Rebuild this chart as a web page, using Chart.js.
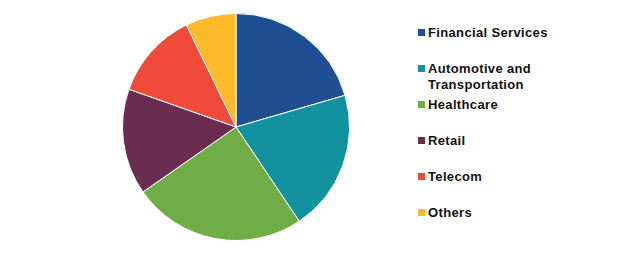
<!DOCTYPE html>
<html>
<head>
<meta charset="utf-8">
<script src="https://cdn.jsdelivr.net/npm/chart.js@4.4.1/dist/chart.umd.min.js"></script>
<style>
    html, body { margin: 0; padding: 0; background: #fff; }
    #wrap { position: relative; width: 620px; height: 256px; }
    #pieBox { position: absolute; left: 122px; top: 13px; width: 228px; height: 228px; }
    #legend { position: absolute; left: 418px; top: 25px; margin: 0; padding: 0; list-style: none;
        font: bold 13px "Liberation Sans", Arial, sans-serif; letter-spacing: 0.35px; color: #111; }
    #legend li { position: relative; height: 36px; padding-left: 10px; line-height: 16px; }
    #legend li span { position: absolute; left: 0; top: 4px; width: 7px; height: 7px; }
</style>
</head>
<body>
<div id="wrap">
    <div id="pieBox"><canvas id="pieChart"></canvas></div>
    <ul id="legend"></ul>
</div>
<script>
const categories = ['Financial Services', 'Automotive and Transportation', 'Healthcare', 'Retail', 'Telecom', 'Others'];
const shares = [20.5, 20.1, 24.7, 15.1, 12.4, 7.2];
const colors = ['#1F4E93', '#12919E', '#71AD47', '#6B2C52', '#F04B3A', '#FDBB2C'];

const chart = new Chart(document.getElementById('pieChart'), {
    type: 'pie',
    data: {
        labels: categories,
        datasets: [{
            data: shares,
            backgroundColor: colors,
            borderColor: '#ffffff',
            borderWidth: 1
        }]
    },
    options: {
        responsive: true,
        maintainAspectRatio: false,
        animation: false,
        layout: { padding: 0 },
        plugins: {
            legend: { display: false },
            tooltip: { enabled: false }
        }
    }
});

// html legend, built from the chart's own labels
const legendEl = document.getElementById('legend');
chart.options.plugins.legend.labels.generateLabels(chart).forEach(item => {
    const li = document.createElement('li');
    const box = document.createElement('span');
    box.style.background = item.fillStyle;
    li.appendChild(box);
    li.appendChild(document.createTextNode(item.text));
    if (item.text.length > 20) li.style.width = '125px';
    legendEl.appendChild(li);
});
</script>
</body>
</html>
